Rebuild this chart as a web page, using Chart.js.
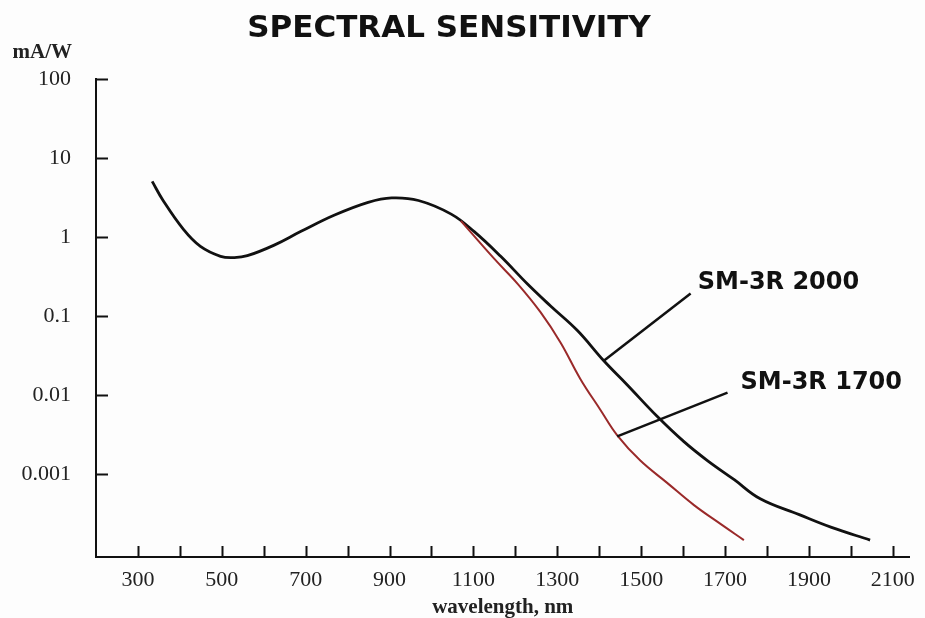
<!DOCTYPE html>
<html>
<head>
<meta charset="utf-8">
<title>Spectral sensitivity</title>
<script src="https://cdn.jsdelivr.net/npm/chart.js@4.4.0/dist/chart.umd.min.js"></script>
<style>
html, body { margin: 0; padding: 0; background: #fdfdfd; }
#wrap { width: 925px; height: 618px; }
</style>
</head>
<body>
<div id="wrap"><canvas id="myChart" width="925" height="618"></canvas></div>
<script>
// values (wavelength in nm, sensitivity in mA/W)
var wavelength2000 = [334, 360, 409, 449, 497, 530, 561, 625, 689, 769, 849, 905, 969, 1047, 1102, 1165, 1229, 1284, 1348, 1411, 1467, 1538, 1602, 1658, 1722, 1784, 1877, 1954, 2046];
var sensitivity2000 = [5.06, 2.9, 1.24, 0.76, 0.57, 0.55, 0.58, 0.79, 1.18, 1.9, 2.75, 3.13, 2.9, 1.95, 1.17, 0.57, 0.254, 0.134, 0.0655, 0.0271, 0.0134, 0.00538, 0.00257, 0.00148, 0.000847, 0.000486, 0.000306, 0.000211, 0.000146];

var wavelength1700 = [1070, 1150, 1206, 1260, 1308, 1355, 1403, 1443, 1498, 1562, 1626, 1690, 1745];
var sensitivity1700 = [1.6, 0.528, 0.254, 0.112, 0.046, 0.016, 0.00647, 0.00309, 0.00148, 0.000773, 0.000404, 0.000232, 0.000146];

var seriesNames = ['SM-3R 2000', 'SM-3R 1700'];

var xTickValues = [300, 400, 500, 600, 700, 800, 900, 1000, 1100, 1200, 1300, 1400, 1500, 1600, 1700, 1800, 1900, 2000, 2100];
var xLabelValues = [300, 500, 700, 900, 1100, 1300, 1500, 1700, 1900, 2100];
var yTickValues = [100, 10, 1, 0.1, 0.01, 0.001];

// callout lines: point on the curve -> end near the label, and label anchor
var leaderFrom = [[1411, 0.0271], [1443, 0.0030]];
var leaderTo = [[1618, 0.193], [1706, 0.0107]];
var labelAt = [[1635, 0.26], [1737, 0.0141]];

function toPoints(xs, ys) {
    var pts = [];
    for (var i = 0; i < xs.length; i++) pts.push({x: xs[i], y: ys[i]});
    return pts;
}

var decor = {
    id: 'decor',
    beforeDraw: function(chart) {
        var ctx = chart.ctx;
        ctx.save();
        ctx.fillStyle = '#fdfdfd';
        ctx.fillRect(0, 0, chart.width, chart.height);
        ctx.restore();
    },
    afterDraw: function(chart) {
        var ctx = chart.ctx;
        var xs = chart.scales.x, ys = chart.scales.y;
        ctx.save();
        ctx.strokeStyle = '#111';
        ctx.lineWidth = 2;
        ctx.beginPath();
        xTickValues.forEach(function(v) {
            var px = Math.round(xs.getPixelForValue(v)) + 0.5;
            ctx.moveTo(px, ys.bottom);
            ctx.lineTo(px, ys.bottom - 11);
        });
        yTickValues.forEach(function(v) {
            var py = Math.round(ys.getPixelForValue(v)) + 0.5;
            ctx.moveTo(xs.left, py);
            ctx.lineTo(xs.left + 12, py);
        });
        ctx.stroke();

        // callouts
        ctx.lineWidth = 2.5;
        for (var i = 0; i < leaderFrom.length; i++) {
            ctx.beginPath();
            ctx.moveTo(xs.getPixelForValue(leaderFrom[i][0]), ys.getPixelForValue(leaderFrom[i][1]));
            ctx.lineTo(xs.getPixelForValue(leaderTo[i][0]), ys.getPixelForValue(leaderTo[i][1]));
            ctx.stroke();
        }
        ctx.fillStyle = '#111';
        ctx.font = 'bold 24px "DejaVu Sans"';
        ctx.textAlign = 'left';
        ctx.textBaseline = 'middle';
        for (var j = 0; j < labelAt.length; j++) {
            ctx.fillText(seriesNames[j], xs.getPixelForValue(labelAt[j][0]), ys.getPixelForValue(labelAt[j][1]));
        }

        // title and unit
        ctx.textBaseline = 'alphabetic';
        ctx.textAlign = 'center';
        ctx.font = 'bold 31px "DejaVu Sans"';
        ctx.fillText('SPECTRAL SENSITIVITY', 449, 37);
        ctx.textAlign = 'right';
        ctx.fillStyle = '#222';
        ctx.font = 'bold 21px "Liberation Serif"';
        ctx.fillText('mA/W', ys.right - 24, 58);
        ctx.restore();
    }
};

var ctx = document.getElementById('myChart');
var myChart = new Chart(ctx, {
    type: 'line',
    data: {
        datasets: [
        {
            label: seriesNames[1],
            data: toPoints(wavelength1700, sensitivity1700),
            borderColor: '#9a2a2a',
            borderWidth: 2,
            pointRadius: 0,
            fill: false,
            tension: 0.4
        },
        {
            label: seriesNames[0],
            data: toPoints(wavelength2000, sensitivity2000),
            borderColor: '#111',
            borderWidth: 2.8,
            pointRadius: 0,
            fill: false,
            tension: 0.4
        }
        ]
    },
    options: {
        responsive: false,
        animation: false,
        layout: { padding: { top: 79, right: 12, left: 0, bottom: 0 } },
        plugins: {
            legend: { display: false },
            tooltip: { enabled: false },
            title: { display: false }
        },
        scales: {
            x: {
                type: 'linear',
                min: 200,
                max: 2140,
                grid: { display: true, drawOnChartArea: false, drawTicks: false },
                border: { display: true, color: '#111', width: 2 },
                afterBuildTicks: function(s) {
                    s.ticks = xTickValues.map(function(v) { return {value: v}; });
                },
                ticks: {
                    autoSkip: false,
                    maxRotation: 0,
                    padding: 10,
                    color: '#222',
                    font: { family: 'Liberation Serif', size: 22 },
                    callback: function(v) { return xLabelValues.indexOf(v) >= 0 ? String(v) : ''; }
                },
                title: {
                    display: true,
                    text: 'wavelength, nm',
                    color: '#222',
                    padding: 0,
                    font: { family: 'Liberation Serif', size: 21, weight: 'bold', lineHeight: 1 }
                },
                afterFit: function(s) { s.height = 61; }
            },
            y: {
                type: 'logarithmic',
                min: 0.0000891,
                max: 100,
                grid: { display: true, drawOnChartArea: false, drawTicks: false },
                border: { display: true, color: '#111', width: 2 },
                afterBuildTicks: function(s) {
                    s.ticks = yTickValues.map(function(v) { return {value: v}; });
                },
                ticks: {
                    padding: 25,
                    color: '#222',
                    font: { family: 'Liberation Serif', size: 22 },
                    callback: function(v) { return String(v); }
                },
                afterFit: function(s) { s.width = 96; }
            }
        }
    },
    plugins: [decor]
});
</script>
</body>
</html>
